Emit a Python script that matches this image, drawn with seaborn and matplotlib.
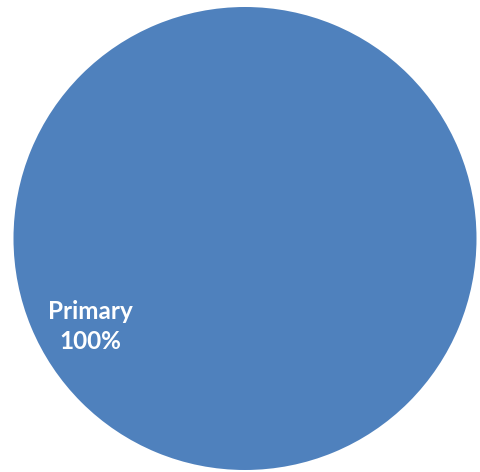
import matplotlib
matplotlib.use("Agg")
import matplotlib.pyplot as plt
import seaborn as sns

categories = ["Primary"]
values = [100]
colors = ["#4F81BD"]

sns.set_style("white")
plt.rcParams['font.family'] = ['Lato', 'DejaVu Sans']

fig = plt.figure(figsize=(4.8, 4.72), dpi=100)
ax = fig.add_axes([13.5 / 480, 2 / 472, 463 / 480, 463 / 472])

def fmt(pct):
    return "{}\n{:.0f}%".format(categories[0], pct)

# startangle chosen so the full-circle wedge angles stay exact in floating point
_, _, autotexts = ax.pie(values, colors=colors, startangle=29.53125, radius=1.0,
                         autopct=fmt, pctdistance=0.77,
                         wedgeprops={'linewidth': 0},
                         textprops={'color': 'white', 'fontsize': 17.5,
                                    'fontweight': 'bold', 'linespacing': 1.4})
ax.set_xlim(-1, 1)
ax.set_ylim(-1, 1)
ax.set_aspect('equal')
ax.axis('off')
fig.savefig("out.png", dpi=100)
